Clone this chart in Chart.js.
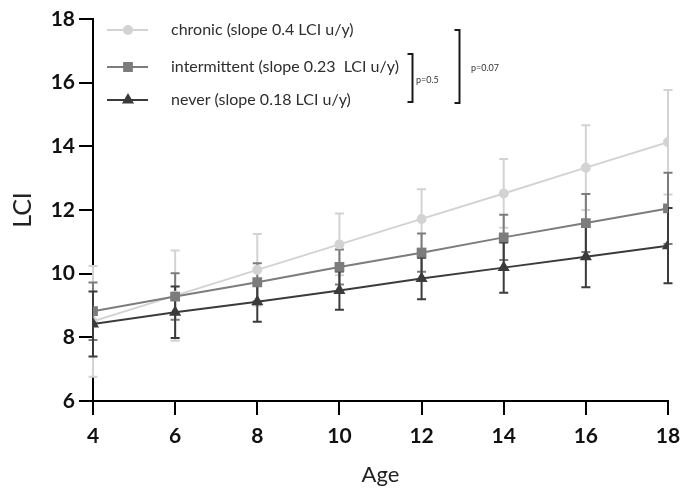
<!DOCTYPE html>
<html>
<head>
<meta charset="utf-8">
<title>LCI by age</title>
<style>
  html, body { margin: 0; padding: 0; background: #ffffff; }
  #wrap { width: 684px; height: 493px; }
</style>
<script src="https://cdn.jsdelivr.net/npm/chart.js@4/dist/chart.umd.min.js"></script>
</head>
<body>
<div id="wrap"><canvas id="lciChart" width="684" height="493"></canvas></div>
<script>
// Age groups (years)
const ages = [4, 6, 8, 10, 12, 14, 16, 18];

// Mean LCI and error (±) per exposure group
const chronicMean = [8.50, 9.31, 10.12, 10.92, 11.72, 12.52, 13.33, 14.13];
const chronicErr  = [1.74, 1.42, 1.13, 0.97, 0.93, 1.08, 1.33, 1.64];

const intermittentMean = [8.82, 9.28, 9.73, 10.21, 10.66, 11.14, 11.59, 12.05];
const intermittentErr  = [0.90, 0.73, 0.60, 0.55, 0.60, 0.71, 0.91, 1.12];

const neverMean = [8.42, 8.79, 9.12, 9.47, 9.85, 10.19, 10.53, 10.88];
const neverErr  = [1.02, 0.81, 0.63, 0.60, 0.65, 0.79, 0.96, 1.18];

const seriesLabels = [
  'chronic (slope 0.4 LCI u/y)',
  'intermittent (slope 0.23  LCI u/y)',
  'never (slope 0.18 LCI u/y)'
];

const yTickValues = [6, 8, 10, 12, 14, 16, 18];
const xTickValues = [4, 6, 8, 10, 12, 14, 16, 18];

// Slope comparisons shown beside the legend
const comparisonLabels = ['p=0.5', 'p=0.07'];

const FONT = 'Lato, "Open Sans", sans-serif';

function toPoints(xs, ys) {
  return xs.map((x, i) => ({ x: x, y: ys[i] }));
}

// Vertical error bars with caps, drawn underneath the lines and markers
const errorBarPlugin = {
  id: 'errorBarPlugin',
  beforeDatasetsDraw(chart) {
    const { ctx, scales } = chart;
    const xs = scales.x, ys = scales.y;
    ctx.save();
    chart.data.datasets.forEach((ds) => {
      const errs = ds.errorValues;
      ctx.strokeStyle = ds.borderColor;
      ctx.lineWidth = 2;
      ds.data.forEach((p, i) => {
        const px = xs.getPixelForValue(p.x);
        const top = ys.getPixelForValue(p.y + errs[i]);
        const bot = ys.getPixelForValue(p.y - errs[i]);
        ctx.beginPath();
        ctx.moveTo(px, top);
        ctx.lineTo(px, bot);
        ctx.moveTo(px - 4.5, top);
        ctx.lineTo(px + 4.5, top);
        ctx.moveTo(px - 4.5, bot);
        ctx.lineTo(px + 4.5, bot);
        ctx.stroke();
      });
    });
    ctx.restore();
  }
};

// Legend rows with line + marker samples, and the comparison brackets
const legendPlugin = {
  id: 'legendPlugin',
  afterDraw(chart) {
    const { ctx } = chart;
    const rowsY = [30, 67, 100];
    ctx.save();
    chart.data.datasets.forEach((ds, i) => {
      const y = rowsY[i];
      ctx.strokeStyle = ds.borderColor;
      ctx.lineWidth = 2;
      ctx.beginPath();
      ctx.moveTo(107, y);
      ctx.lineTo(148, y);
      ctx.stroke();
      ctx.fillStyle = ds.pointBackgroundColor;
      Chart.helpers.drawPoint(ctx, {
        pointStyle: ds.pointStyle,
        radius: ds.pointRadius,
        rotation: 0,
        borderWidth: 1
      }, 128, y);
      ctx.fillStyle = '#2e2e2e';
      ctx.font = '16px ' + FONT;
      ctx.textBaseline = 'middle';
      ctx.textAlign = 'left';
      ctx.fillText(ds.label, 171, y);
    });

    // brackets
    const brackets = [
      { x: 412.5, top: 54, bottom: 102, tx: 416, ty: 80, text: comparisonLabels[0] },
      { x: 459.5, top: 30, bottom: 103, tx: 471, ty: 68, text: comparisonLabels[1] }
    ];
    ctx.strokeStyle = '#1a1a1a';
    ctx.lineWidth = 2;
    brackets.forEach((b) => {
      ctx.beginPath();
      ctx.moveTo(b.x - 5, b.top);
      ctx.lineTo(b.x, b.top);
      ctx.lineTo(b.x, b.bottom);
      ctx.lineTo(b.x - 5, b.bottom);
      ctx.stroke();
      ctx.fillStyle = '#333333';
      ctx.font = '9px ' + FONT;
      ctx.textBaseline = 'middle';
      ctx.textAlign = 'left';
      ctx.fillText(b.text, b.tx, b.ty);
    });
    ctx.restore();
  }
};

const colors = ['#d3d3d3', '#7c7c7c', '#3b3b3b'];

new Chart(document.getElementById('lciChart'), {
  type: 'line',
  data: {
    datasets: [
      {
        label: seriesLabels[0],
        data: toPoints(ages, chronicMean),
        errorValues: chronicErr,
        borderColor: colors[0],
        backgroundColor: colors[0],
        pointBackgroundColor: colors[0],
        pointBorderColor: colors[0],
        pointStyle: 'circle',
        pointRadius: 4,
        borderWidth: 2,
        order: 2
      },
      {
        label: seriesLabels[1],
        data: toPoints(ages, intermittentMean),
        errorValues: intermittentErr,
        borderColor: colors[1],
        backgroundColor: colors[1],
        pointBackgroundColor: colors[1],
        pointBorderColor: colors[1],
        pointStyle: 'rect',
        pointRadius: 5.5,
        borderWidth: 2,
        order: 1
      },
      {
        label: seriesLabels[2],
        data: toPoints(ages, neverMean),
        errorValues: neverErr,
        borderColor: colors[2],
        backgroundColor: colors[2],
        pointBackgroundColor: colors[2],
        pointBorderColor: colors[2],
        pointStyle: 'triangle',
        pointRadius: 5,
        borderWidth: 2,
        order: 0
      }
    ]
  },
  options: {
    responsive: false,
    animation: false,
    devicePixelRatio: 1,
    layout: { padding: { top: 19, right: 16, left: 0, bottom: 0 } },
    plugins: {
      legend: { display: false },
      tooltip: { enabled: false }
    },
    elements: {
      line: { tension: 0 },
      point: { borderWidth: 1 }
    },
    scales: {
      x: {
        type: 'linear',
        min: 4,
        max: 18,
        afterBuildTicks(scale) {
          scale.ticks = xTickValues.map(v => ({ value: v }));
        },
        afterFit(scale) {
          scale.height = 92;
          scale.paddingRight = 0;
          scale.paddingLeft = 0;
        },
        ticks: {
          color: '#111111',
          font: { family: FONT, size: 21, weight: 'bold' },
          padding: 9,
          maxRotation: 0
        },
        grid: {
          drawOnChartArea: false,
          drawTicks: true,
          tickLength: 14,
          color: '#000000',
          lineWidth: 2
        },
        border: { display: true, color: '#000000', width: 2 },
        title: {
          display: true,
          text: 'Age',
          color: '#222222',
          font: { family: FONT, size: 22 },
          padding: { top: 0, bottom: 5 }
        }
      },
      y: {
        type: 'linear',
        min: 6,
        max: 18,
        afterBuildTicks(scale) {
          scale.ticks = yTickValues.map(v => ({ value: v }));
        },
        afterFit(scale) {
          scale.width = 93;
          scale.paddingTop = 0;
          scale.paddingBottom = 0;
        },
        ticks: {
          color: '#111111',
          font: { family: FONT, size: 21, weight: 'bold' },
          padding: 4
        },
        grid: {
          drawOnChartArea: false,
          drawTicks: true,
          tickLength: 14,
          color: '#000000',
          lineWidth: 2
        },
        border: { display: true, color: '#000000', width: 2 },
        title: {
          display: true,
          text: 'LCI',
          color: '#222222',
          font: { family: FONT, size: 25 },
          padding: { top: 8, bottom: 0 }
        }
      }
    }
  },
  plugins: [errorBarPlugin, legendPlugin]
});
</script>
</body>
</html>
